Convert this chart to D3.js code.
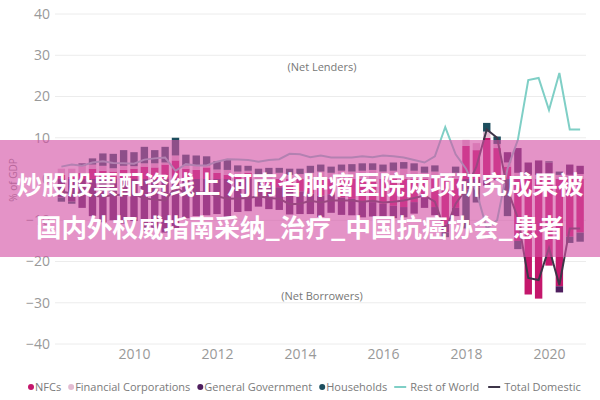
<!DOCTYPE html>
<meta charset="utf-8">
<style>
    body { margin: 0; background: #fff; }
    text { font-family: "Open Sans", "DejaVu Sans", sans-serif; }
</style>
<svg width="600" height="400"></svg>
<script src="https://d3js.org/d3.v7.min.js"></script>
<script>
    // quarterly, 2008 Q2 .. 2020 Q4, % of GDP
    var quarters = [];
    for (var yr = 2008; yr <= 2020; yr++) {
        for (var q = 1; q <= 4; q++) {
            if (yr == 2008 && q == 1) continue;
            quarters.push(yr + (q - 1) / 4);
        }
    }
    var nfcs = [1.0, 0.5, 1.5, 2.5, 2.0, 1.8, 2.2, 2.5, 3.0, 2.8, 3.5, 4.5, 2.5, 2.2, 2.8, 1.5, 1.0, 0.8, 1.5,
        -0.2, -1.5, -2.0, -2.8, -3.0, -3.5, -4.0, -3.7, -4.5, -4.8, -5.5, -5.6, -6.0, -6.5, -6.8, -5.6, -4.5, -6.8,
        -11.0, -7.0, 8.0, 7.0, 10.0, 7.5, 3.0, -15.0, -28.0, -29.0, -21.0, -26.0, -14.0, -13.0];
    var financial = [1.5, 2.0, 1.8, 1.0, 1.2, 0.8, 1.0, 0.6, 0.8, 1.0, 0.5, 1.2, 0.8, 1.0, 0.5, 0.8, 1.2, 1.0, 0.5,
        1.0, 1.2, 1.5, 1.0, 1.2, 1.5, 1.8, 1.5, 2.0, 1.8, 2.0, 2.2, 1.8, 2.0, 2.5, 2.0, 1.5, 1.8,
        1.5, 1.5, 1.5, 1.7, 1.5, 1.0, 1.0, 1.5, 1.0, 1.0, 1.0, 1.0, 1.0, 1.2];
    var government = [-4.5, -5.5, -7.0, -9.0, -10.5, -10.0, -10.8, -10.2, -12.5, -12.0, -13.0, -12.0, -9.5, -9.0, -8.8, -8.5, -9.5, -8.0, -7.8,
        -6.5, -5.8, -5.5, -5.8, -5.5, -5.0, -5.2, -4.5, -4.2, -4.0, -3.8, -3.5, -3.2, -3.0, -2.5, -2.8, -2.5, -2.0,
        -2.0, -2.0, -2.5, -2.0, -1.6, -0.3, 2.5, 6.0, 3.0, 3.5, 3.0, -1.5, 2.5, 2.0];
    var households = [-1.0, -0.5, 0.5, 1.5, 3.0, 3.5, 3.8, 3.4, 4.0, 3.2, 3.8, 4.3, 2.6, 2.5, 2.2, 2.0, 2.5, 1.5, 1.2,
        1.5, 1.5, 1.2, 1.5, 1.3, 1.7, 1.7, 1.5, 1.5, 1.8, 1.8, 1.6, 1.7, 2.0, 1.6, 1.8, 1.5, 1.5,
        -1.1, 1.5, -9.5, -3.7, 2.1, 1.8, -9.0, -2.0, 0.0, 0.0, 0.3, 0.8, -1.5, -2.2];
    var restOfWorld = [3.0, 3.5, 3.2, 4.0, 4.3, 3.9, 3.8, 3.7, 4.7, 5.0, 5.2, 2.0, 3.6, 3.3, 3.3, 4.2, 4.8, 4.7, 4.6,
        4.2, 4.6, 4.8, 6.1, 6.0, 5.3, 5.7, 5.2, 5.2, 5.2, 5.5, 5.3, 5.7, 5.5, 5.2, 4.6, 4.0, 5.5,
        12.6, 6.0, 2.5, -3.0, -12.0, -10.0, 2.5, 9.5, 24.0, 24.5, 16.7, 25.7, 12.0, 12.0];
    var totalDomestic = [-3.0, -3.5, -3.2, -4.0, -4.3, -3.9, -3.8, -3.7, -4.7, -5.0, -5.2, -2.0, -3.6, -3.3, -3.3, -4.2, -4.8, -4.7, -4.6,
        -4.2, -4.6, -4.8, -6.1, -6.0, -5.3, -5.7, -5.2, -5.2, -5.2, -5.5, -5.3, -5.7, -5.5, -5.2, -4.6, -4.0, -5.5,
        -12.6, -6.0, -2.5, 3.0, 12.0, 10.0, -2.5, -9.5, -24.0, -24.5, -16.7, -25.7, -12.0, -12.0];

    var yTicks = [-40, -30, -20, -10, 0, 10, 20, 30, 40];
    var xTicks = [2010, 2012, 2014, 2016, 2018, 2020];
    var sectors = ["NFCs", "Financial Corporations", "General Government", "Households"];
    var sectorColors = ["#c4176c", "#e3bcd2", "#4e1e5e", "#1d4e5e"];
    var bannerLines = ["炒股股票配资线上 河南省肿瘤医院两项研究成果被", "国内外权威指南采纳_治疗_中国抗癌协会_患者"];

    var svg = d3.select("svg"),
        width = +svg.attr("width"),
        height = +svg.attr("height");

    var x = d3.scaleLinear().domain([2010, 2020]).range([134, 549]);
    var y = d3.scaleLinear().domain([-40, 40]).range([344, 14]);
    var left = 55,
        right = 586;

    // grid
    svg.append("g").selectAll("line")
        .data(yTicks)
        .enter().append("line")
        .attr("x1", left)
        .attr("x2", right)
        .attr("y1", function(d) { return y(d); })
        .attr("y2", function(d) { return y(d); })
        .attr("stroke", "#ececec")
        .attr("stroke-width", 1);

    var yAxis = svg.append("g")
        .attr("transform", "translate(50,0)")
        .call(d3.axisLeft(y).tickValues(yTicks).tickSize(0).tickPadding(0).tickFormat(d3.format("d")));
    yAxis.select(".domain").remove();
    yAxis.selectAll("text").attr("fill", "#999").style("font-size", "14px");

    var xAxis = svg.append("g")
        .attr("transform", "translate(0,349)")
        .call(d3.axisBottom(x).tickValues(xTicks).tickSize(0).tickPadding(0).tickFormat(d3.format("d")));
    xAxis.select(".domain").remove();
    xAxis.selectAll("text").attr("fill", "#999").style("font-size", "14px");

    svg.append("text")
        .attr("transform", "translate(17,180) rotate(-90)")
        .attr("text-anchor", "middle")
        .attr("fill", "#8a8a8a")
        .style("font-size", "10px")
        .text("% of GDP");

    svg.append("text").attr("x", 322).attr("y", 71).attr("text-anchor", "middle")
        .attr("fill", "#777").style("font-size", "11px").text("(Net Lenders)");
    svg.append("text").attr("x", 322).attr("y", 300).attr("text-anchor", "middle")
        .attr("fill", "#777").style("font-size", "11px").text("(Net Borrowers)");

    // stacked bars
    var table = quarters.map(function(t, i) {
        return {
            t: t,
            "NFCs": nfcs[i],
            "Financial Corporations": financial[i],
            "General Government": government[i],
            "Households": households[i]
        };
    });
    var series = d3.stack().keys(sectors).offset(d3.stackOffsetDiverging)(table);
    var barW = 7.4;

    svg.append("g").selectAll("g")
        .data(series)
        .enter().append("g")
        .attr("fill", function(d, i) { return sectorColors[i]; })
        .selectAll("rect")
        .data(function(d) { return d; })
        .enter().append("rect")
        .attr("x", function(d) { return x(d.data.t) - barW / 2; })
        .attr("y", function(d) { return y(Math.max(d[0], d[1])); })
        .attr("width", barW)
        .attr("height", function(d) { return Math.abs(y(d[0]) - y(d[1])); });

    var line = d3.line()
        .x(function(d) { return x(d[0]); })
        .y(function(d) { return y(d[1]); });

    svg.append("path")
        .attr("d", line(quarters.map(function(t, i) { return [t, restOfWorld[i]]; })))
        .attr("fill", "none")
        .attr("stroke", "#7fcfc6")
        .attr("stroke-width", 2);

    svg.append("path")
        .attr("d", line(quarters.map(function(t, i) { return [t, totalDomestic[i]]; })))
        .attr("fill", "none")
        .attr("stroke", "#3d3548")
        .attr("stroke-width", 2);

    // legend
    var legend = svg.append("g").attr("transform", "translate(28,387)");
    var lx = 0;
    sectors.forEach(function(name, i) {
        legend.append("circle").attr("cx", lx + 3).attr("cy", 0).attr("r", 3).attr("fill", sectorColors[i]);
        var t = legend.append("text").attr("x", lx + 7).attr("y", 4)
            .attr("fill", "#7a7a7a").style("font-size", "11px").text(name);
        lx += 7 + t.node().getComputedTextLength() + 7;
    });
    [["Rest of World", "#7fcfc6"], ["Total Domestic", "#3d3548"]].forEach(function(d) {
        legend.append("line").attr("x1", lx).attr("x2", lx + 12).attr("y1", 0).attr("y2", 0)
            .attr("stroke", d[1]).attr("stroke-width", 2);
        var t = legend.append("text").attr("x", lx + 16).attr("y", 4)
            .attr("fill", "#7a7a7a").style("font-size", "11px").text(d[0]);
        lx += 16 + t.node().getComputedTextLength() + 9;
    });

    // banner
    svg.append("rect")
        .attr("x", 0).attr("y", 140)
        .attr("width", width).attr("height", 117)
        .attr("fill", "rgb(212,80,165)")
        .attr("fill-opacity", 0.62);

    svg.append("g").selectAll("text")
        .data(bannerLines)
        .enter().append("text")
        .attr("x", width / 2)
        .attr("y", function(d, i) { return 194 + i * 43; })
        .attr("text-anchor", "middle")
        .attr("fill", "#fff")
        .style("font-family", "'Noto Sans CJK SC', sans-serif")
        .style("font-weight", "bold")
        .style("font-size", "25.5px")
        .text(function(d) { return d; });
</script>
